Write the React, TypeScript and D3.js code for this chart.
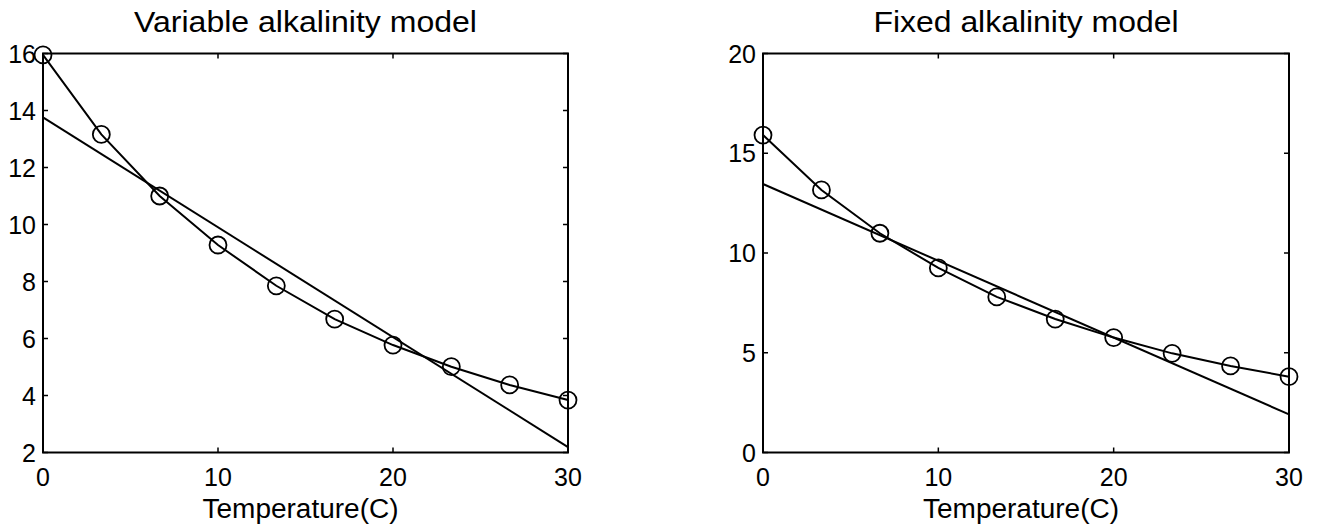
import React from "react";
import * as d3 from "d3";

// ---- data ----
const temperatures = [0, 3.333, 6.667, 10, 13.333, 16.667, 20, 23.333, 26.667, 30];
const variableObserved = [15.95, 13.16, 11.0, 9.28, 7.85, 6.68, 5.77, 5.01, 4.37, 3.84];
const variableFit = [13.76, 2.19]; // at T = 0 and T = 30
const fixedObserved = [15.91, 13.16, 10.99, 9.25, 7.8, 6.69, 5.76, 4.97, 4.34, 3.8];
const fixedFit = [13.46, 1.91];
const fitTemps = [0, 30];
const xTicks = [0, 10, 20, 30];
const variableYTicks = [2, 4, 6, 8, 10, 12, 14, 16];
const fixedYTicks = [0, 5, 10, 15, 20];
const titles = ["Variable alkalinity model", "Fixed alkalinity model"];
const xLabel = "Temperature(C)";

const W = 1322;
const H = 529;
const FONT = "'Liberation Sans', Arial, Helvetica, sans-serif";

type PanelProps = {
  left: number;
  right: number;
  yDomain: [number, number];
  yTicks: number[];
  observed: number[];
  fit: number[];
  title: string;
  titleWidth: number;
};

function Panel({ left, right, yDomain, yTicks, observed, fit, title, titleWidth }: PanelProps) {
  const top = 53.5;
  const bottom = 452.5;
  const x = d3.scaleLinear().domain([0, 30]).range([left, right]);
  const y = d3.scaleLinear().domain(yDomain).range([bottom, top]);
  const line = d3
    .line<[number, number]>()
    .x((d) => x(d[0]))
    .y((d) => y(d[1]));
  const obsPts: [number, number][] = temperatures.map((t, i) => [t, observed[i]]);
  const fitPts: [number, number][] = fitTemps.map((t, i) => [t, fit[i]]);
  const tickLen = 5;
  const cx = (left + right) / 2;
  return (
    <g>
      <text
        x={cx}
        y={32}
        textAnchor="middle"
        fontSize={30}
        fontFamily={FONT}
        textLength={titleWidth}
        lengthAdjust="spacingAndGlyphs"
      >
        {title}
      </text>
      {/* box */}
      <rect x={left} y={top} width={right - left} height={bottom - top} fill="none" stroke="#000" strokeWidth={2} />
      {/* x ticks */}
      {xTicks.map((t) => (
        <g key={"x" + t}>
          <line x1={x(t)} x2={x(t)} y1={bottom} y2={bottom - tickLen} stroke="#000" strokeWidth={1.5} />
          <line x1={x(t)} x2={x(t)} y1={top} y2={top + tickLen} stroke="#000" strokeWidth={1.5} />
          <text x={x(t)} y={486} textAnchor="middle" fontSize={25} fontFamily={FONT}>
            {t}
          </text>
        </g>
      ))}
      {/* y ticks */}
      {yTicks.map((t) => (
        <g key={"y" + t}>
          <line x1={left} x2={left + tickLen} y1={y(t)} y2={y(t)} stroke="#000" strokeWidth={1.5} />
          <line x1={right} x2={right - tickLen} y1={y(t)} y2={y(t)} stroke="#000" strokeWidth={1.5} />
          <text x={left - 7} y={y(t) + 9} textAnchor="end" fontSize={25} fontFamily={FONT}>
            {t}
          </text>
        </g>
      ))}
      <text
        x={cx - 5}
        y={518}
        textAnchor="middle"
        fontSize={27}
        fontFamily={FONT}
        textLength={196}
        lengthAdjust="spacingAndGlyphs"
      >
        {xLabel}
      </text>
      <path d={line(fitPts) || ""} fill="none" stroke="#000" strokeWidth={2} />
      <path d={line(obsPts) || ""} fill="none" stroke="#000" strokeWidth={2} />
      {obsPts.map((p, i) => (
        <circle key={i} cx={x(p[0])} cy={y(p[1])} r={8.5} fill="none" stroke="#000" strokeWidth={1.8} />
      ))}
    </g>
  );
}

export default function App() {
  return (
    <svg
      width={W}
      height={H}
      style={{ position: "absolute", left: 0, top: 0, background: "#fff" }}
    >
      <rect width={W} height={H} fill="#fff" />
      <Panel
        left={43}
        right={568}
        yDomain={[2, 16]}
        yTicks={variableYTicks}
        observed={variableObserved}
        fit={variableFit}
        title={titles[0]}
        titleWidth={343}
      />
      <Panel
        left={763}
        right={1289}
        yDomain={[0, 20]}
        yTicks={fixedYTicks}
        observed={fixedObserved}
        fit={fixedFit}
        title={titles[1]}
        titleWidth={305}
      />
    </svg>
  );
}
